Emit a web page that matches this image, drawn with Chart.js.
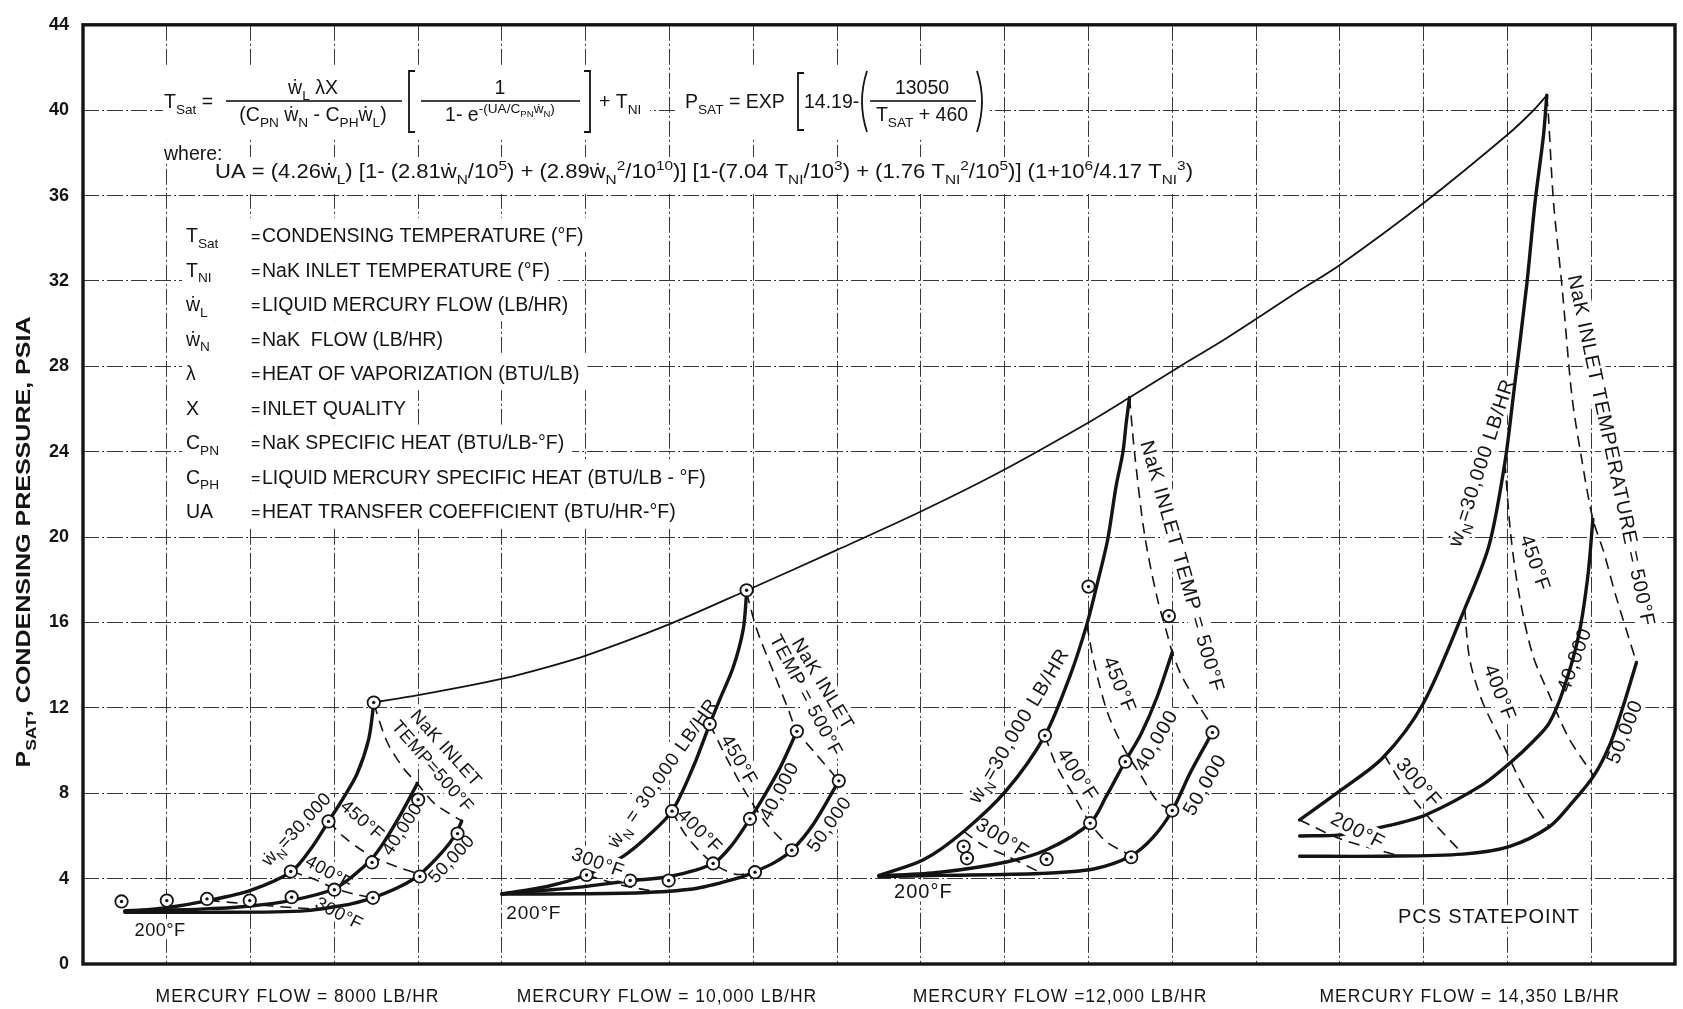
<!DOCTYPE html>
<html>
<head>
<meta charset="utf-8">
<script src="https://cdn.jsdelivr.net/npm/chart.js@4.4.1/dist/chart.umd.min.js"></script>
<style>
  html, body { margin: 0; padding: 0; background: #fff; }
  canvas { display: block; }
</style>
</head>
<body>
<canvas id="c" width="1683" height="1009"></canvas>
<script>
// Condensing pressure vs. NaK flow and NaK inlet temperature, four mercury flows.
// Abscissa is a plain grid (one unit per column, no labels); ordinate is PSAT in psia.

const xMin = 0, xMax = 19;
const yMin = 0, yMax = 44, yStep = 4;

// ---------- Mercury flow = 8000 lb/hr ----------
const f8000_wn30000 = [[0.5,2.46],[1.0,2.64],[1.5,2.98],[2.0,3.45],[2.49,4.34],[2.72,5.4],[2.93,6.68],[3.11,7.8],[3.27,8.9],[3.41,10.54],[3.47,12.2]];
const f8000_wn40000 = [[0.5,2.5],[1.4,2.57],[2.0,2.72],[2.49,2.98],[2.99,3.5],[3.23,4.15],[3.45,4.95],[3.59,5.7],[3.79,7.0],[3.99,8.45]];
const f8000_wn50000 = [[0.5,2.42],[1.5,2.42],[2.3,2.44],[2.67,2.5],[3.0,2.68],[3.2,2.82],[3.46,3.1],[3.79,3.64],[4.02,4.2],[4.3,5.3],[4.45,6.1],[4.52,6.7]];
const f8000_t300 = [[1.5,2.98],[2.0,2.8],[2.5,2.64],[2.85,2.56]];
const f8000_t400 = [[2.49,4.34],[2.79,3.92],[3.0,3.55],[3.23,3.28],[3.46,3.1]];
const f8000_t450 = [[2.93,6.68],[3.1,6.0],[3.3,5.4],[3.5,4.95],[3.75,4.55],[4.02,4.2]];
const f8000_t500 = [[3.47,12.2],[3.63,10.4],[3.82,9.2],[3.99,8.45],[4.2,7.5],[4.52,6.7]];
const f8000_points = [[0.46,2.93],[1.0,2.97],[1.48,3.05],[1.99,2.97],[2.49,3.13],[2.48,4.33],[2.93,6.68],[3.47,12.25],[3.0,3.48],[3.45,4.76],[3.46,3.1],[4.0,7.7],[4.02,4.1],[4.47,6.11]];

// ---------- Mercury flow = 10,000 lb/hr ----------
const f10000_wn30000 = [[5.0,3.28],[5.54,3.63],[6.01,4.17],[6.25,4.64],[6.45,5.05],[6.73,5.95],[7.03,7.16],[7.29,9.3],[7.48,11.24],[7.6,12.4],[7.76,13.9],[7.88,15.69],[7.92,17.4]];
const f10000_wn40000 = [[5.0,3.28],[5.93,3.6],[6.53,3.9],[7.0,4.1],[7.52,4.71],[7.75,5.6],[7.96,6.8],[8.12,7.81],[8.32,9.2],[8.52,10.9]];
const f10000_wn50000 = [[5.0,3.28],[5.93,3.29],[6.73,3.35],[7.33,3.55],[7.84,4.05],[8.02,4.33],[8.25,4.75],[8.46,5.33],[8.72,6.57],[9.02,8.58]];
const f10000_t300 = [[6.01,4.17],[6.41,3.71],[6.81,3.42],[7.0,3.38]];
const f10000_t400 = [[7.03,7.16],[7.21,5.95],[7.52,4.71],[7.8,4.2],[8.02,4.33]];
const f10000_t450 = [[7.48,11.24],[7.68,9.66],[7.92,7.96],[8.16,6.57],[8.46,5.33]];
const f10000_t500 = [[7.92,17.4],[8.04,15.69],[8.24,13.68],[8.42,11.9],[8.52,10.9],[8.72,9.97],[9.02,8.58]];
const f10000_points = [[7.92,17.51],[7.48,11.24],[8.52,10.9],[9.02,8.58],[7.03,7.16],[7.96,6.8],[8.46,5.33],[7.52,4.71],[8.02,4.3],[6.01,4.17],[6.53,3.91],[6.99,3.91]];

// ---------- Mercury flow = 12,000 lb/hr ----------
const f12000_wn30000 = [[9.5,4.15],[10.03,4.88],[10.51,6.21],[11.02,8.13],[11.48,10.7],[11.78,13.5],[11.98,15.9],[12.11,17.9],[12.23,19.9],[12.33,22.4],[12.41,23.95],[12.45,25.34],[12.49,26.54]];
const f12000_wn40000 = [[9.5,4.12],[10.23,4.3],[11.02,4.78],[11.5,5.35],[12.02,6.6],[12.21,7.84],[12.43,9.43],[12.63,10.8],[12.82,12.52],[13.0,14.6]];
const f12000_wn50000 = [[9.5,4.1],[10.23,4.15],[11.42,4.24],[12.06,4.45],[12.51,5.07],[12.77,5.93],[13.0,7.19],[13.22,9.0],[13.5,11.0]];
const f12000_t300 = [[10.51,6.21],[10.75,5.54],[11.02,5.07],[11.42,4.3]];
const f12000_t400 = [[11.48,10.7],[11.62,9.27],[11.82,7.93],[12.02,6.6],[12.21,5.74],[12.51,5.07]];
const f12000_t450 = [[11.98,15.9],[12.07,14.06],[12.23,11.75],[12.43,10.05],[12.63,8.81],[12.83,7.58],[13.0,7.19]];
const f12000_t500 = [[12.49,26.54],[12.55,23.95],[12.67,20.1],[12.82,17.15],[12.94,15.45],[13.0,14.6],[13.1,13.6],[13.3,12.2],[13.5,11.0]];
const f12000_points = [[12.0,17.68],[12.96,16.3],[11.48,10.7],[13.48,10.85],[12.44,9.48],[12.02,6.6],[13.0,7.19],[12.51,5.0],[10.51,5.5],[10.55,4.95],[11.5,4.91]];

// ---------- Mercury flow = 14,350 lb/hr (PCS statepoint) ----------
const f14350_wn30000 = [[14.52,6.75],[15.0,8.11],[15.51,9.65],[15.99,12.17],[16.49,16.64],[16.78,19.6],[16.97,23.5],[17.07,26.6],[17.23,31.8],[17.33,35.7],[17.43,38.8],[17.47,40.7]];
const f14350_wn40000 = [[14.52,6.0],[15.0,6.05],[15.59,6.49],[16.03,6.99],[16.7,8.39],[17.04,9.45],[17.3,10.4],[17.5,11.3],[17.67,12.87],[17.85,15.38],[17.96,18.18],[18.02,20.84]];
const f14350_wn50000 = [[14.52,5.05],[15.51,5.05],[16.47,5.15],[17.02,5.5],[17.5,6.43],[17.77,7.55],[18.03,8.81],[18.23,10.35],[18.4,12.31],[18.54,14.13]];
const f14350_t200 = [[14.52,6.75],[15.0,5.87],[15.7,5.08]];
const f14350_t300 = [[15.53,9.79],[15.75,8.39],[16.03,7.0],[16.47,5.15]];
const f14350_t400 = [[16.49,16.64],[16.55,14.27],[16.7,12.3],[16.94,10.35],[17.18,8.39],[17.5,6.43]];
const f14350_t450 = [[16.97,23.5],[17.04,20.1],[17.14,17.3],[17.3,14.5],[17.5,12.6],[17.73,10.6],[18.03,8.81]];
const f14350_t500 = [[17.47,40.7],[17.49,39.7],[17.55,35.7],[17.65,31.8],[17.77,26.6],[17.88,23.8],[18.02,20.84],[18.15,19.3],[18.29,17.3],[18.54,14.13]];

// Envelope through the 30,000 lb/hr / 500°F corner of each group
const envelope = [[3.47,12.25],[4.0,12.6],[4.74,13.15],[5.22,13.57],[6.0,14.45],[7.0,15.92],[7.92,17.5],[9.0,19.4],[10.0,21.2],[10.92,23.0],[11.97,25.3],[12.49,26.54],[13.08,27.97],[13.66,29.35],[14.5,31.5],[15.0,32.75],[16.0,35.65],[17.0,38.85],[17.3,39.95],[17.47,40.7]];

// Group captions under the axis
const groupTitles = ['MERCURY FLOW = 8000 LB/HR', 'MERCURY FLOW = 10,000 LB/HR', 'MERCURY FLOW =12,000 LB/HR', 'MERCURY FLOW = 14,350 LB/HR'];
const groupTitleX = [2.56, 6.97, 11.66, 16.55];

// Nomenclature
const legendRows = [
  ['T_{Sat}', 'CONDENSING TEMPERATURE (°F)'],
  ['T_{NI}', 'NaK INLET TEMPERATURE (°F)'],
  ['ẇ_{L}', 'LIQUID MERCURY FLOW (LB/HR)'],
  ['ẇ_{N}', 'NaK  FLOW (LB/HR)'],
  ['λ', 'HEAT OF VAPORIZATION (BTU/LB)'],
  ['X', 'INLET QUALITY'],
  ['C_{PN}', 'NaK SPECIFIC HEAT (BTU/LB-°F)'],
  ['C_{PH}', 'LIQUID MERCURY SPECIFIC HEAT (BTU/LB - °F)'],
  ['UA', 'HEAT TRANSFER COEFFICIENT (BTU/HR-°F)']
];

// Curve annotations per group: text, x, y (data units), angle (deg), cuts the line under it
const notes8000 = [
  ['ẇ_{N}=30,000', 2.54, 6.34, -47],
  ['NaK INLET', 4.34, 10.14, 48],
  ['TEMP=500°F', 4.18, 9.28, 49],
  ['450°F', 3.34, 6.77, 41],
  ['40,000', 3.8, 6.34, -57],
  ['50,000', 4.39, 4.95, -47],
  ['400°F', 2.94, 4.33, 30],
  ['300°F', 3.06, 2.4, 27],
  ['200°F', 0.92, 1.63, 0]
];
const notes10000 = [
  ['ẇ_{N} = 30,000 LB/HR', 6.91, 8.96, -55],
  ['NaK INLET', 8.84, 13.14, 59],
  ['TEMP = 500°F', 8.64, 12.6, 62],
  ['450°F', 7.84, 9.58, 60],
  ['40,000', 8.3, 8.11, -62],
  ['50,000', 8.9, 6.57, -55],
  ['400°F', 7.37, 6.26, 45],
  ['300°F', 6.15, 4.79, 20, true],
  ['200°F', 5.38, 2.43, 0]
];
const notes12000 = [
  ['ẇ_{N}=30,000 LB/HR', 11.16, 11.19, -59],
  ['NaK INLET TEMP = 500°F', 13.13, 18.64, 74],
  ['450°F', 12.38, 13.1, 68],
  ['40,000', 12.8, 10.5, -60],
  ['50,000', 13.38, 8.42, -60],
  ['400°F', 11.88, 8.89, 57],
  ['300°F', 10.98, 5.93, 32],
  ['200°F', 10.03, 3.44, 0]
];
const notes14350 = [
  ['ẇ_{N}=30,000 LB/HR', 16.68, 23.5, -72],
  ['NaK INLET TEMPERATURE = 500°F', 18.25, 24.06, 78],
  ['450°F', 17.34, 18.8, 71],
  ['40,000', 17.79, 14.27, -70],
  ['50,000', 18.39, 10.9, -68],
  ['400°F', 16.92, 12.73, 69],
  ['300°F', 15.95, 8.53, 49],
  ['200°F', 15.22, 6.29, 28, true],
  ['PCS STATEPOINT', 16.78, 2.24, 0]
];

// ---------- styling ----------
const FAM = "'Liberation Sans', Arial, 'DejaVu Sans', sans-serif";
const INK = '#141414';
const GRID = '#383838';
const GRID_DASH = [16, 3, 2, 3];
const TEXT_SIZE = 19.5;
const noteGroups = [
  { notes: notes8000, size: 18.3, spacing: 0.4 },
  { notes: notes10000, size: 19, spacing: 0.8 },
  { notes: notes12000, size: 20, spacing: 1 },
  { notes: notes14350, size: 20, spacing: 0.9 }
];

const toPts = arr => arr.map(([x, y]) => ({ x, y }));
const solid = arr => ({ data: toPts(arr), showLine: true, borderColor: INK, borderWidth: 3.4, pointRadius: 0, tension: 0.3, order: 2, borderCapStyle: 'round', borderJoinStyle: 'round' });
const dashed = arr => ({ data: toPts(arr), showLine: true, borderColor: INK, borderWidth: 1.6, borderDash: [11, 7], pointRadius: 0, tension: 0.3, order: 3 });
const thin = arr => ({ data: toPts(arr), showLine: true, borderColor: INK, borderWidth: 1.8, pointRadius: 0, tension: 0.3, order: 3 });
const rings = arr => ({ data: toPts(arr), showLine: false, pointRadius: 6.2, pointBackgroundColor: '#fff', pointBorderColor: INK, pointBorderWidth: 1.8, order: 1 });
const dots = arr => ({ data: toPts(arr), showLine: false, pointRadius: 1.7, pointBackgroundColor: INK, pointBorderColor: INK, pointBorderWidth: 0, order: 0 });

const datasets = [
  thin(envelope),
  solid(f8000_wn30000), solid(f8000_wn40000), solid(f8000_wn50000),
  dashed(f8000_t300), dashed(f8000_t400), dashed(f8000_t450), dashed(f8000_t500),
  solid(f10000_wn30000), solid(f10000_wn40000), solid(f10000_wn50000),
  dashed(f10000_t300), dashed(f10000_t400), dashed(f10000_t450), dashed(f10000_t500),
  solid(f12000_wn30000), solid(f12000_wn40000), solid(f12000_wn50000),
  dashed(f12000_t300), dashed(f12000_t400), dashed(f12000_t450), dashed(f12000_t500),
  solid(f14350_wn30000), solid(f14350_wn40000), solid(f14350_wn50000),
  dashed(f14350_t200), dashed(f14350_t300), dashed(f14350_t400), dashed(f14350_t450), dashed(f14350_t500),
  rings(f8000_points), rings(f10000_points), rings(f12000_points),
  dots(f8000_points), dots(f10000_points), dots(f12000_points)
];

// ---------- rich text: _{sub} and ^{sup}, one nesting level ----------
function parseRich(s) {
  const segs = [];
  let i = 0;
  function run(scale, dy, inBrace) {
    let buf = '';
    const flush = () => { if (buf) { segs.push({ t: buf, scale, dy }); buf = ''; } };
    while (i < s.length) {
      const c = s[i];
      if (c === '}' && inBrace) { i++; flush(); return; }
      if ((c === '_' || c === '^') && s[i + 1] === '{') {
        flush(); i += 2;
        run(scale * 0.7, dy + (c === '_' ? 0.3 * scale : -0.42 * scale), true);
        continue;
      }
      buf += c; i++;
    }
    flush();
  }
  run(1, 0, false);
  return segs;
}
function fontFor(size, weight) { return `${weight} ${size}px ${FAM}`; }
function richWidth(ctx, s, size, weight = 'normal') {
  let w = 0;
  for (const g of parseRich(s)) { ctx.font = fontFor(size * g.scale, weight); w += ctx.measureText(g.t).width; }
  return w;
}
// baseline at y; align: left | center | right; o.width squeezes/stretches to a set length
function rich(ctx, s, x, y, o = {}) {
  const size = o.size || TEXT_SIZE, weight = o.weight || 'normal';
  const w = richWidth(ctx, s, size, weight);
  const k = o.width ? o.width / w : 1;
  const wk = w * k;
  const x0 = o.align === 'center' ? x - wk / 2 : o.align === 'right' ? x - wk : x;
  ctx.save();
  ctx.translate(x0, y);
  ctx.scale(k, 1);
  ctx.textAlign = 'left';
  ctx.textBaseline = 'alphabetic';
  let cx = 0;
  for (const g of parseRich(s)) {
    ctx.font = fontFor(size * g.scale, weight);
    ctx.fillText(g.t, cx, g.dy * size);
    cx += ctx.measureText(g.t).width;
  }
  ctx.restore();
  return x0 + wk;
}
function fraction(ctx, num, den, cx, barY, x0, x1) {
  rich(ctx, num, cx, barY - 7, { align: 'center' });
  ctx.fillRect(x0, barY - 0.8, x1 - x0, 1.6);
  rich(ctx, den, cx, barY + 20, { align: 'center' });
}
function bracket(ctx, x, y0, y1, dir) {
  ctx.beginPath();
  ctx.moveTo(x + dir * 6, y0); ctx.lineTo(x, y0); ctx.lineTo(x, y1); ctx.lineTo(x + dir * 6, y1);
  ctx.lineWidth = 1.8; ctx.stroke();
}
function paren(ctx, x, y0, y1, dir) {
  ctx.beginPath();
  ctx.moveTo(x + dir * 5, y0);
  ctx.quadraticCurveTo(x - dir * 5, (y0 + y1) / 2, x + dir * 5, y1);
  ctx.lineWidth = 1.8; ctx.stroke();
}

// white paste-up areas behind the printed formula and nomenclature (pixels)
const LEG_X = 186, LEG_EQ = 251, LEG_TXT = 262, LEG_Y0 = 235, LEG_DY = 34.5;
function pasteBoxes(ctx) {
  const boxes = [
    [163, 66, 487, 72],     // Tsat expression
    [678, 66, 312, 72],     // Psat expression
    [163, 140, 77, 22],     // where:
    [212, 157, 988, 37]     // UA expression
  ];
  legendRows.forEach((r, k) => {
    const end = LEG_TXT + richWidth(ctx, r[1], TEXT_SIZE);
    boxes.push([LEG_X - 4, LEG_Y0 + k * LEG_DY - 17.3, end - LEG_X + 12, LEG_DY]);
  });
  for (const b of boxes) ctx.fillRect(b[0], b[1], b[2], b[3]);
}

function eachNote(fn) {
  for (const g of noteGroups) for (const n of g.notes) fn(n, g);
}
function notePlace(ctx, chart, n) {
  ctx.translate(chart.scales.x.getPixelForValue(n[1]), chart.scales.y.getPixelForValue(n[2]));
  ctx.rotate(n[3] * Math.PI / 180);
}
function noteBox(ctx, chart, n, g) {
  ctx.save();
  ctx.letterSpacing = g.spacing + 'px';
  const w = richWidth(ctx, n[0], g.size);
  notePlace(ctx, chart, n);
  ctx.fillRect(-w / 2 - 3, -g.size * 0.55, w + 6, g.size * 1.1);
  ctx.restore();
}
function noteText(ctx, chart, n, g) {
  ctx.save();
  ctx.letterSpacing = g.spacing + 'px';
  notePlace(ctx, chart, n);
  rich(ctx, n[0], 0, g.size * 0.36, { align: 'center', size: g.size });
  ctx.restore();
}

const paperPlugin = {
  id: 'paper',
  beforeDatasetsDraw(chart) {
    const ctx = chart.ctx;
    ctx.save();
    ctx.fillStyle = '#fff';
    pasteBoxes(ctx);
    eachNote((n, g) => noteBox(ctx, chart, n, g));
    ctx.restore();
  },
  afterDatasetsDraw(chart) {
    const ctx = chart.ctx;
    ctx.save();
    ctx.fillStyle = '#fff';
    eachNote((n, g) => { if (n[4]) noteBox(ctx, chart, n, g); });
    ctx.fillStyle = INK;
    eachNote((n, g) => noteText(ctx, chart, n, g));
    ctx.restore();
  },
  afterDraw(chart) {
    const ctx = chart.ctx, ca = chart.chartArea, xs = chart.scales.x;
    ctx.save();
    ctx.fillStyle = INK; ctx.strokeStyle = INK;

    // Tsat expression
    rich(ctx, 'T_{Sat} =', 164, 108);
    fraction(ctx, 'ẇ_{L} λX', '(C_{PN} ẇ_{N} - C_{PH}ẇ_{L})', 313, 101, 226, 402);
    bracket(ctx, 409, 71, 132, 1);
    fraction(ctx, '1', '1- e^{-(UA/C_{PN}ẇ_{N})}', 500, 101, 421, 580);
    bracket(ctx, 590, 71, 132, -1);
    rich(ctx, '+ T_{NI}', 599, 108);

    // Psat expression
    rich(ctx, 'P_{SAT} = EXP', 685, 108);
    bracket(ctx, 798, 73, 130, 1);
    rich(ctx, '14.19-', 804, 108);
    paren(ctx, 862, 71, 132, 1);
    fraction(ctx, '13050', 'T_{SAT} + 460', 922, 101, 870, 976);
    paren(ctx, 982, 71, 132, -1);

    rich(ctx, 'where:', 164, 160);
    rich(ctx, 'UA = (4.26ẇ_{L}) [1- (2.81ẇ_{N}/10^{5}) + (2.89ẇ_{N}^{2}/10^{10})] [1-(7.04 T_{NI}/10^{3}) + (1.76 T_{NI}^{2}/10^{5})] (1+10^{6}/4.17 T_{NI}^{3})', 215, 178, { width: 978 });

    // nomenclature
    legendRows.forEach((r, k) => {
      const yb = LEG_Y0 + k * LEG_DY + 7;
      rich(ctx, r[0], LEG_X, yb);
      rich(ctx, '=', LEG_EQ, yb, { size: 16 });
      rich(ctx, r[1], LEG_TXT, yb);
    });

    // group captions
    ctx.letterSpacing = '1px';
    groupTitles.forEach((t, k) => {
      rich(ctx, t, xs.getPixelForValue(groupTitleX[k]), 1002, { align: 'center', size: 17.5 });
    });
    ctx.letterSpacing = '0px';

    // ordinate title
    ctx.save();
    ctx.translate(23, 542);
    ctx.rotate(-Math.PI / 2);
    rich(ctx, 'P_{SAT}, CONDENSING PRESSURE, PSIA', 0, 7, { align: 'center', size: 21, weight: 'bold', width: 451 });
    ctx.restore();

    // heavy frame
    ctx.lineWidth = 3.4;
    ctx.strokeRect(ca.left, ca.top, ca.right - ca.left, ca.bottom - ca.top);
    ctx.restore();
  }
};

new Chart(document.getElementById('c'), {
  type: 'scatter',
  data: { datasets },
  options: {
    responsive: false,
    animation: false,
    devicePixelRatio: 1,
    events: [],
    layout: { padding: { top: 14, right: 3, left: 0, bottom: 0 } },
    plugins: { legend: { display: false }, tooltip: { enabled: false } },
    scales: {
      x: {
        type: 'linear', min: xMin, max: xMax,
        ticks: { display: false, stepSize: 1 },
        grid: { color: GRID, lineWidth: 1, drawTicks: false },
        border: { display: false, dash: GRID_DASH },
        afterFit(s) { s.height = 45; }
      },
      y: {
        type: 'linear', min: yMin, max: yMax,
        ticks: { stepSize: yStep, color: INK, padding: 14, font: { family: FAM, size: 18, weight: 'bold' } },
        grid: { color: GRID, lineWidth: 1, drawTicks: false },
        border: { display: false, dash: GRID_DASH },
        afterFit(s) { s.width = 83; }
      }
    }
  },
  plugins: [paperPlugin]
});
</script>
</body>
</html>
